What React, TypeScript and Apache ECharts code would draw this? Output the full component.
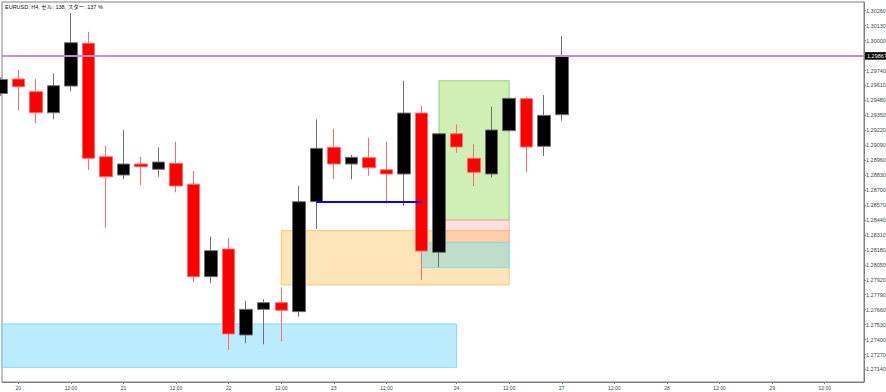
import React, { useEffect, useRef } from "react";
import * as echarts from "echarts";

// Bar positions (H4 bars, 0 = 20th 00:00)
const barIndex = [-1, 0, 1, 2, 3, 4, 5, 6, 7, 8, 9, 10, 11, 12, 13, 14, 15, 16, 17, 18, 19, 20, 21, 22, 23, 24, 25, 26, 27, 28, 29, 30, 31];
const opens = [1.2954, 1.29666, 1.29556, 1.29373, 1.29605, 1.29977, 1.2899, 1.28831, 1.28927, 1.28881, 1.28933, 1.28751, 1.27947, 1.28188, 1.2744, 1.27663, 1.27721, 1.27643, 1.28599, 1.29072, 1.28927, 1.28982, 1.28877, 1.2884, 1.2937, 1.28159, 1.2919, 1.28977, 1.2884, 1.29217, 1.29495, 1.29081, 1.29356];
const closes = [1.29663, 1.29599, 1.29373, 1.29608, 1.29982, 1.28977, 1.28816, 1.28927, 1.28903, 1.28944, 1.28736, 1.27947, 1.28173, 1.27449, 1.27663, 1.27721, 1.27655, 1.28599, 1.29063, 1.28927, 1.28985, 1.28895, 1.2884, 1.2937, 1.2817, 1.2919, 1.29075, 1.28855, 1.29223, 1.29498, 1.29075, 1.2935, 1.29867];
const lows = [1.2952, 1.29396, 1.29281, 1.29316, 1.2956, 1.28875, 1.28373, 1.28794, 1.28744, 1.28816, 1.28681, 1.27898, 1.2789, 1.2731, 1.27368, 1.27359, 1.27382, 1.27599, 1.28362, 1.28794, 1.28794, 1.28825, 1.28585, 1.28562, 1.27918, 1.28029, 1.29025, 1.28736, 1.28808, 1.2921, 1.28855, 1.28997, 1.29303];
const highs = [1.2968, 1.29744, 1.29666, 1.29716, 1.3024, 1.30077, 1.29086, 1.29223, 1.2899, 1.29072, 1.29121, 1.28866, 1.28295, 1.28281, 1.27736, 1.2775, 1.27855, 1.28736, 1.29316, 1.29234, 1.29005, 1.29156, 1.29121, 1.29651, 1.29431, 1.29195, 1.29272, 1.29098, 1.29425, 1.29505, 1.29512, 1.29527, 1.3004];

// Time axis labels
const timeTickIndex = [0, 3, 6, 9, 12, 15, 18, 21, 25, 28, 31, 34, 37, 40, 43, 46];
const timeTickLabels = ["20", "12:00", "21", "12:00", "22", "12:00", "23", "12:00", "24", "12:00", "27", "12:00", "28", "12:00", "29", "12:00"];

// Price axis labels
const priceTicks = [1.2714, 1.2727, 1.274, 1.2753, 1.2766, 1.2779, 1.2792, 1.2805, 1.2818, 1.2831, 1.2844, 1.2857, 1.287, 1.2883, 1.2896, 1.2909, 1.2922, 1.2935, 1.2948, 1.2961, 1.2974, 1.2987, 1.3, 1.3013, 1.3026];

// Current price line
const currentPrice = 1.29867;

// Support/resistance line
const lineStartBar = 17;
const lineEndBar = 23;
const linePrice = 1.28599;

// Zones: [bar from, bar to, top price, bottom price]
const zoneFromBar = [-0.93, 15, 24, 24, 23];
const zoneToBar = [25, 28, 28, 28, 28];
const zoneTop = [1.27536, 1.28347, 1.29651, 1.2844, 1.28246];
const zoneBottom = [1.27159, 1.27875, 1.2844, 1.28243, 1.28025];

const X_MIN = -0.93;
const X_MAX = 48.24;
const Y_MIN = 1.27031;
const Y_MAX = 1.30336;

const zoneStyles = [
  { color: "rgba(110,215,250,0.48)", borderColor: "#86d9f3", borderWidth: 1 },
  { color: "rgba(250,190,80,0.4)", borderColor: "#f7c770", borderWidth: 1 },
  { color: "rgba(150,220,90,0.45)", borderColor: "#98cf78", borderWidth: 1 },
  { color: "rgba(255,130,130,0.25)", borderColor: "#f7b0b0", borderWidth: 1 },
  { color: "rgba(100,210,230,0.4)", borderColor: "#88dcea", borderWidth: 1 },
];

export default function App() {
  const ref = useRef<HTMLDivElement>(null);

  useEffect(() => {
    if (!ref.current) return;
    const chart = echarts.init(ref.current, null, { renderer: "svg" });
    const candles = barIndex.map((k, i) => [k, opens[i], closes[i], lows[i], highs[i]]);
    const font = "'Liberation Sans', 'Noto Sans CJK JP', sans-serif";

    chart.setOption({
      animation: false,
      backgroundColor: "#ffffff",
      title: {
        text: "EURUSD, H4, セル: 138, スター: 137 %",
        left: 5,
        top: 4,
        padding: 0,
        textStyle: { fontSize: 5.5, fontWeight: "normal", color: "#111", fontFamily: font },
      },
      grid: {
        left: 2,
        top: 2,
        right: 22,
        bottom: 10,
        show: true,
        borderColor: "#808080",
        borderWidth: 1,
        containLabel: false,
        outerBoundsMode: "none",
      },
      xAxis: {
        type: "value",
        min: X_MIN,
        max: X_MAX,
        axisLine: { show: true, onZero: false, lineStyle: { color: "#808080", width: 1 } },
        axisTick: { show: true, length: 2, customValues: timeTickIndex, lineStyle: { color: "#808080" } },
        axisLabel: {
          customValues: timeTickIndex,
          formatter: (v: number) => {
            const i = timeTickIndex.indexOf(Math.round(v));
            return i >= 0 ? timeTickLabels[i] : "";
          },
          fontSize: 5,
          margin: 3,
          color: "#444",
          fontFamily: font,
        },
        splitLine: { show: false },
      },
      yAxis: {
        type: "value",
        position: "right",
        min: Y_MIN,
        max: Y_MAX,
        scale: true,
        axisLine: { show: true, onZero: false, lineStyle: { color: "#808080", width: 1 } },
        axisTick: { show: true, length: 2, customValues: priceTicks, lineStyle: { color: "#808080" } },
        axisLabel: {
          customValues: priceTicks,
          formatter: (v: number) => v.toFixed(5),
          fontSize: 5.5,
          margin: 2,
          color: "#444",
          fontFamily: font,
        },
        splitLine: { show: false },
      },
      series: [
        {
          type: "candlestick",
          name: "EURUSD",
          data: candles,
          encode: { x: 0, y: [1, 2, 3, 4] },
          barWidth: 13,
          clip: true,
          itemStyle: {
            color: "#000000",
            color0: "#ff0000",
            borderColor: "#707070",
            borderColor0: "#ff6a6a",
            borderWidth: 1,
          },
        },
        {
          type: "line",
          name: "marks",
          data: [],
          silent: true,
          clip: false,
          color: "#c48bd0",
          markArea: {
            silent: true,
            data: zoneFromBar.map((x1, i) => [
              { coord: [x1, zoneTop[i]], itemStyle: zoneStyles[i] },
              { coord: [zoneToBar[i], zoneBottom[i]] },
            ]),
          },
          markLine: {
            silent: true,
            precision: 5,
            symbol: ["none", "none"],
            lineStyle: { color: "#c48bd0", width: 2, type: "solid" },
            label: { show: false },
            data: [
              {
                yAxis: currentPrice,
                lineStyle: { color: "#c88ad6", width: 2, type: "solid" },
                label: {
                  show: true,
                  position: "end",
                  distance: 1,
                  formatter: currentPrice.toFixed(5),
                  backgroundColor: "#000",
                  color: "#fff",
                  fontSize: 5.5,
                  padding: [1, 2],
                  fontFamily: font,
                },
              },
              [
                {
                  coord: [lineStartBar, linePrice],
                  lineStyle: { color: "#0000ff", width: 2, type: "solid" },
                  label: { show: false },
                },
                { coord: [lineEndBar, linePrice] },
              ],
            ],
          },
        },
      ],
    });

    return () => chart.dispose();
  }, []);

  return (
    <div
      ref={ref}
      style={{ position: "absolute", left: 0, top: 0, width: 886, height: 392 }}
    />
  );
}
